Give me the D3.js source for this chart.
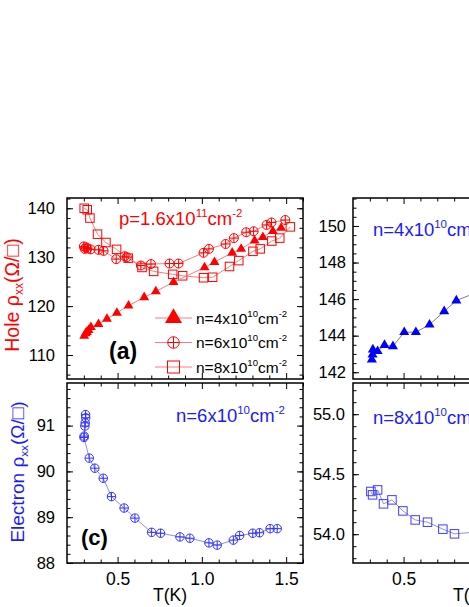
<!DOCTYPE html>
<html>
<head>
<meta charset="utf-8">
<script src="https://cdn.jsdelivr.net/npm/d3@7/dist/d3.min.js"></script>
<style>
body{margin:0;background:#fff;}
svg{display:block;font-family:"Liberation Sans",Arial,sans-serif;}
</style>
</head>
<body>
<script>
//values, T in K and rho in Ohm/sq
//panel (a): hole layer, three electron densities
var tHoleN4 = [0.302, 0.310, 0.318, 0.328, 0.342, 0.387, 0.437, 0.496, 0.565, 0.658, 0.727, 0.832, 1.016, 1.075, 1.180, 1.233, 1.313, 1.362, 1.421, 1.470];
var rHoleN4 = [113.9, 114.4, 114.7, 115.1, 115.7, 116.3, 117.4, 118.6, 120.1, 121.8, 123.0, 124.9, 127.9, 129.0, 130.9, 131.7, 133.4, 134.1, 135.3, 136.0];
var tHoleN6 = [0.300, 0.305, 0.312, 0.322, 0.340, 0.387, 0.417, 0.492, 0.542, 0.555, 0.638, 0.698, 0.808, 0.862, 1.010, 1.042, 1.141, 1.190, 1.263, 1.307, 1.384, 1.413, 1.495];
var rHoleN6 = [132.2, 131.7, 132.0, 131.8, 131.6, 131.5, 131.3, 129.6, 130.2, 130.0, 128.3, 128.6, 128.7, 128.7, 130.9, 131.7, 132.7, 133.9, 135.1, 135.3, 136.6, 137.1, 137.6];
var tHoleN8 = [0.302, 0.320, 0.336, 0.381, 0.431, 0.494, 0.563, 0.645, 0.714, 0.827, 0.886, 1.010, 1.064, 1.164, 1.219, 1.303, 1.346, 1.415, 1.462, 1.525];
var rHoleN8 = [140.0, 139.7, 138.0, 134.7, 133.0, 131.6, 129.8, 127.9, 127.1, 126.5, 126.2, 125.8, 125.9, 128.1, 129.3, 131.2, 131.7, 133.3, 133.9, 136.2];
//panel (b): electron layer, n=4x10^10
var tElecN4 = [0.312, 0.316, 0.318, 0.346, 0.387, 0.437, 0.504, 0.573, 0.654, 0.741, 0.813, 0.930];
var rElecN4 = [142.69, 142.96, 143.24, 143.15, 143.48, 143.42, 144.19, 144.19, 144.60, 145.33, 145.92, 146.35];
//panel (c): electron layer, n=6x10^10
var tElecN6 = [0.310, 0.311, 0.308, 0.306, 0.302, 0.301, 0.332, 0.365, 0.415, 0.464, 0.539, 0.603, 0.702, 0.755, 0.870, 0.929, 1.042, 1.091, 1.187, 1.224, 1.302, 1.342, 1.405, 1.447];
var rElecN6 = [91.24, 91.17, 91.06, 90.99, 90.77, 90.74, 90.29, 90.07, 89.85, 89.45, 89.20, 88.98, 88.67, 88.65, 88.57, 88.54, 88.44, 88.39, 88.50, 88.60, 88.65, 88.66, 88.75, 88.75];
//panel (d): electron layer, n=8x10^10
var tElecN8 = [0.306, 0.316, 0.346, 0.381, 0.431, 0.496, 0.569, 0.642, 0.733, 0.802, 0.930];
var rElecN8 = [54.356, 54.328, 54.369, 54.253, 54.286, 54.194, 54.119, 54.100, 54.042, 54.003, 54.018];

//tick labels
var xTicks = [0.5, 1.0, 1.5];
var yTicksA = [110, 120, 130, 140];
var yTicksB = [142, 144, 146, 148, 150];
var yTicksC = [88, 89, 90, 91];
var yTicksD = [54.0, 54.5, 55.0];
var legendLabels = ["4", "6", "8"];

window.onload = drawChart();

function drawChart(){
    var width = 469,
        height = 607;

    var svg = d3.select("body")
        .append("svg")
        .attr("width", width)
        .attr("height", height);

    var red = "#ff0000", redLine = "#ff7a7a",
        blue = "#1a1aff", blueLine = "#8c8cff";

    //four panel frames
    var panels = {
        a: {x: 67, y: 198, w: 236, h: 181, yDom: [105.1, 142.1], yMajor: yTicksA, yStep: 2, fmt: d3.format("d"), pad: 12, labels: false},
        b: {x: 353, y: 198, w: 236, h: 181, yDom: [141.63, 151.53], yMajor: yTicksB, yStep: 0.5, fmt: d3.format("d"), pad: 7, labels: false},
        c: {x: 67, y: 383, w: 236, h: 180, yDom: [88, 91.93], yMajor: yTicksC, yStep: 0.2, fmt: d3.format("d"), pad: 12, labels: true},
        d: {x: 353, y: 383, w: 236, h: 180, yDom: [53.76, 55.26], yMajor: yTicksD, yStep: 0.1, fmt: d3.format(".1f"), pad: 8, labels: true}
    };

    Object.keys(panels).forEach(function(k){
        var p = panels[k];
        p.xs = d3.scaleLinear().domain([0.2, 1.6]).range([0, p.w]);
        p.ys = d3.scaleLinear().domain(p.yDom).range([p.h, 0]);
        p.g = svg.append("g").attr("transform", "translate(" + p.x + "," + p.y + ")");
        drawAxes(p);
    });

    //panel (a) series
    var pa = panels.a;
    drawSeries(pa, tHoleN8, rHoleN8, redLine, "square", red, 8.5);
    drawSeries(pa, tHoleN6, rHoleN6, redLine, "crossCircle", red, 9);
    drawSeries(pa, tHoleN4, rHoleN4, redLine, "triangle", red, 42);

    //panels (b), (c), (d)
    drawSeries(panels.b, tElecN4, rElecN4, "#808080", "triangle", "#0000ff", 44);
    drawSeries(panels.c, tElecN6, rElecN6, blueLine, "crossCircle", "#3434ff", 8.5);
    drawSeries(panels.d, tElecN8, rElecN8, blueLine, "square", "#3d3dff", 8.5);

    //legend in panel (a)
    var legendShapes = [["triangle", 125], ["crossCircle", 11.5], ["square", 12]];
    legendLabels.forEach(function(n, i){
        var ly = 318 + i * 24.5;
        svg.append("line")
            .attr("x1", 155).attr("x2", 192)
            .attr("y1", ly).attr("y2", ly)
            .attr("stroke", redLine).attr("stroke-width", 1);
        drawMarker(svg, legendShapes[i][0], 173.5, ly, red, legendShapes[i][1]);
        var t = svg.append("text").attr("x", 196).attr("y", ly + 5.5).attr("fill", "#000");
        richText(t, [["n=" + n + "x10", 0], ["10", 1], ["cm", 0], ["-2", 1]], 15.5);
    });

    //density annotations
    richText(svg.append("text").attr("x", 119).attr("y", 225).attr("fill", red),
        [["p=1.6x10", 0], ["11", 1], ["cm", 0], ["-2", 1]], 18.5);
    richText(svg.append("text").attr("x", 373).attr("y", 235.5).attr("fill", blue),
        [["n=4x10", 0], ["10", 1], ["cm", 0], ["-2", 1]], 18.5);
    richText(svg.append("text").attr("x", 176).attr("y", 422).attr("fill", blue),
        [["n=6x10", 0], ["10", 1], ["cm", 0], ["-2", 1]], 18.5);
    richText(svg.append("text").attr("x", 373).attr("y", 423.5).attr("fill", blue),
        [["n=8x10", 0], ["10", 1], ["cm", 0], ["-2", 1]], 18.5);

    //panel letters
    svg.append("text").attr("x", 109).attr("y", 359)
        .attr("font-size", 23).attr("font-weight", "bold").text("(a)");
    svg.append("text").attr("x", 81).attr("y", 545)
        .attr("font-size", 22).attr("font-weight", "bold").text("(c)");

    //axis titles
    svg.append("text").attr("x", 153).attr("y", 601).attr("font-size", 17.5).text("T(K)");
    svg.append("text").attr("x", 453).attr("y", 601).attr("font-size", 17.5).text("T(K)");

    var holeLab = svg.append("text")
        .attr("transform", "translate(19,295) rotate(-90)")
        .attr("text-anchor", "middle").attr("fill", red);
    richText(holeLab, [["Hole ", 0], ["\u03c1", 0], ["xx", -1], ["(\u03a9/\u25a1)", 0]], 19.5);

    var elecLab = svg.append("text")
        .attr("transform", "translate(24,472) rotate(-90)")
        .attr("text-anchor", "middle").attr("fill", blue);
    richText(elecLab, [["Electron ", 0], ["\u03c1", 0], ["xx", -1], ["(\u03a9/\u25a1)", 0]], 19);
}

//frame, inward ticks on all four sides, labels bottom (c,d) and left
function drawAxes(p){
    var xMinor = d3.range(0.3, 1.61, 0.1).filter(function(v){ return Math.abs(v * 2 - Math.round(v * 2)) > 1e-6; });
    var yMinor = d3.range(Math.ceil(p.yDom[0] / p.yStep) * p.yStep, p.yDom[1], p.yStep);

    var axes = [
        [d3.axisBottom(p.xs), "translate(0," + p.h + ")", xTicks, xMinor, p.labels],
        [d3.axisTop(p.xs), null, xTicks, xMinor, false],
        [d3.axisLeft(p.ys), null, p.yMajor, yMinor, true],
        [d3.axisRight(p.ys), "translate(" + p.w + ",0)", p.yMajor, yMinor, false]
    ];

    axes.forEach(function(a, i){
        var isX = i < 2;
        var major = a[0].tickValues(a[2]).tickSize(-6)
            .tickPadding(isX ? 10 : p.pad)
            .tickFormat(a[4] ? (isX ? d3.format(".1f") : p.fmt) : "");
        var gM = p.g.append("g").call(major);
        var gm = p.g.append("g").call(a[0].tickValues(a[3]).tickSize(-3.5).tickFormat(""));
        [gM, gm].forEach(function(g){
            if (a[1]) g.attr("transform", a[1]);
            g.select(".domain").remove();
            g.selectAll("line").attr("stroke", "#000").attr("stroke-width", 1);
            g.attr("font-family", null);
        });
        gM.attr("font-size", isX ? 17.5 : 16.5);
        gM.selectAll("text").attr("fill", "#000");
    });

    p.g.append("rect")
        .attr("width", p.w).attr("height", p.h)
        .attr("fill", "none").attr("stroke", "#000").attr("stroke-width", 1.5);
}

function drawSeries(p, ts, rs, lineColor, shape, color, size){
    var pts = ts.map(function(t, i){ return [p.xs(t), p.ys(rs[i])]; });
    p.g.append("path")
        .attr("d", d3.line()(pts))
        .attr("fill", "none")
        .attr("stroke", lineColor)
        .attr("stroke-width", 1);
    pts.forEach(function(q){
        drawMarker(p.g, shape, q[0], q[1], color, size);
    });
}

function drawMarker(g, shape, cx, cy, color, size){
    if (shape === "triangle"){
        g.append("path")
            .attr("d", d3.symbol(d3.symbolTriangle, size)())
            .attr("transform", "translate(" + cx + "," + cy + ")")
            .attr("fill", color);
    } else if (shape === "square"){
        g.append("rect")
            .attr("x", cx - size / 2).attr("y", cy - size / 2)
            .attr("width", size).attr("height", size)
            .attr("fill", "none").attr("stroke", color).attr("stroke-width", 1);
    } else {
        var r = size / 2;
        g.append("circle").attr("cx", cx).attr("cy", cy).attr("r", r)
            .attr("fill", "none").attr("stroke", color).attr("stroke-width", 1);
        g.append("path")
            .attr("d", "M" + (cx - r) + "," + cy + "H" + (cx + r) + "M" + cx + "," + (cy - r) + "V" + (cy + r))
            .attr("stroke", color).attr("stroke-width", 1);
    }
}

//text with super/subscript parts: [string, 1 sup | -1 sub | 0]
function richText(sel, parts, size){
    var cur = 0;
    sel.attr("font-size", size);
    parts.forEach(function(q){
        var off = q[1] === 1 ? -0.42 * size : (q[1] === -1 ? 0.22 * size : 0);
        sel.append("tspan")
            .attr("dy", off - cur)
            .attr("font-size", q[1] ? size * 0.62 : size)
            .text(q[0]);
        cur = off;
    });
}
</script>
</body>
</html>
